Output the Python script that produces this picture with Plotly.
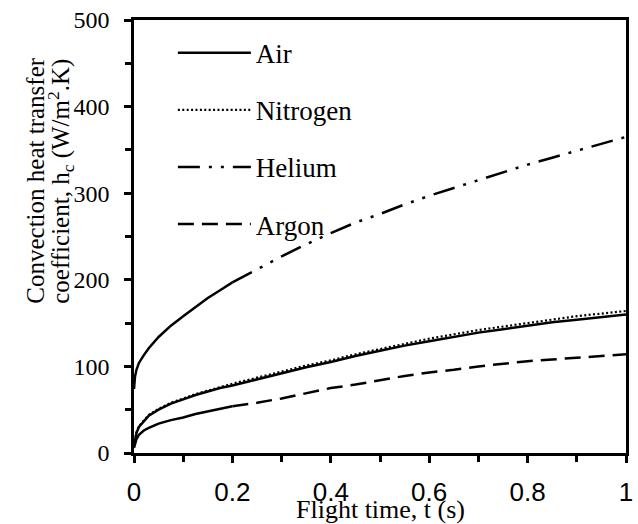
import plotly.graph_objects as go

# Flight time (s)
t_s = [0, 0.002, 0.005, 0.01, 0.02, 0.03, 0.05, 0.075, 0.1, 0.125, 0.15, 0.175,
       0.2, 0.25, 0.3, 0.35, 0.4, 0.45, 0.5, 0.55, 0.6, 0.65, 0.7, 0.75, 0.8,
       0.85, 0.9, 0.95, 1.0]

# Convection heat transfer coefficient h_c (W/m^2.K) for each gas
h_air = [8, 16, 23, 30, 37, 43, 50, 57, 62, 67, 71, 75, 78, 85, 92, 99, 105,
         112, 118, 124, 129, 134, 139, 143, 147, 151, 154, 157, 160]
h_nitrogen = [8, 16, 24, 31, 38, 44, 51, 58, 63, 68, 72, 76, 80, 87, 94, 101,
              107, 114, 120, 126, 132, 137, 142, 146, 150, 154, 158, 161, 164]
h_helium = [74, 88, 96, 104, 113, 121, 134, 147, 158, 169, 179, 188, 197, 212,
            227, 241, 254, 266, 276, 287, 297, 306, 315, 324, 333, 341, 349,
            357, 365]
h_argon = [6, 11, 16, 21, 26, 29, 34, 38, 41, 45, 48, 51, 54, 58, 63, 69, 75,
           79, 84, 89, 93, 96, 100, 103, 106, 108, 110, 112, 114]

x_ticks = [0, 0.2, 0.4, 0.6, 0.8, 1]
x_tick_text = ["0", "0.2", "0.4", "0.6", "0.8", "1"]
y_ticks = [0, 100, 200, 300, 400, 500]

x_title = "Flight time, t (s)"
y_title_lines = ["Convection heat transfer",
                 "coefficient, h<sub>c</sub> (W/m<sup>2</sup>.K)"]

BLACK = "#000000"
SERIF = "Liberation Serif, Times New Roman, serif"
SANS = "Liberation Sans, Arial, sans-serif"

fig = go.Figure()


def add_series(name, values, dash, width, dense_until=None):
    """Add one gas curve; the densely sampled start is drawn solid."""
    if dense_until is not None:
        k = t_s.index(dense_until)
        fig.add_trace(go.Scatter(
            x=t_s[:k + 1], y=values[:k + 1], mode="lines",
            line=dict(color=BLACK, width=width),
            legendgroup=name, showlegend=False, hoverinfo="skip"))
        xs, ys = t_s[k:], values[k:]
    else:
        xs, ys = t_s, values
    fig.add_trace(go.Scatter(
        x=xs, y=ys, name=name, mode="lines", legendgroup=name,
        line=dict(color=BLACK, width=width, dash=dash)))


add_series("Air", h_air, "solid", 2.5)
add_series("Nitrogen", h_nitrogen, "2px,2.4px", 2.2)
add_series("Helium", h_helium, "22px,9px,3px,9px,3px,9px", 2.5, dense_until=0.2)
add_series("Argon", h_argon, "16px,8px", 2.5, dense_until=0.2)

axis_common = dict(showgrid=False, zeroline=False, linecolor=BLACK,
                   linewidth=2.5, tickcolor=BLACK, tickwidth=2.5,
                   automargin=False)

# axis titles, placed as free text next to the axes
annotations = [
    dict(text=x_title, xref="paper", yref="paper", x=0.502, y=-0.131,
         xanchor="center", yanchor="middle", showarrow=False,
         font=dict(family=SERIF, size=26, color=BLACK)),
    dict(text=y_title_lines[0], xref="paper", yref="paper", x=-0.202,
         y=0.628, xanchor="center", yanchor="middle", textangle=-90,
         showarrow=False, font=dict(family=SERIF, size=25, color=BLACK)),
    dict(text=y_title_lines[1], xref="paper", yref="paper", x=-0.149,
         y=0.628, xanchor="center", yanchor="middle", textangle=-90,
         showarrow=False, font=dict(family=SERIF, size=25, color=BLACK)),
]

fig.update_layout(
    width=638, height=524,
    margin=dict(l=134, r=12, t=20, b=71, autoexpand=False),
    paper_bgcolor="white", plot_bgcolor="white",
    showlegend=True,
    annotations=annotations,
    legend=dict(x=0.079, y=0.98, xanchor="left", yanchor="top",
                bgcolor="rgba(0,0,0,0)", itemwidth=73,
                tracegroupgap=19,
                font=dict(family=SERIF, size=27, color=BLACK)),
    xaxis=dict(range=[0, 1], tickvals=x_ticks, ticktext=x_tick_text,
               ticks="outside", ticklen=7, mirror=True,
               ticklabelstandoff=7,
               tickfont=dict(family=SANS, size=26, color=BLACK),
               minor=dict(dtick=0.1, ticks="outside", ticklen=6,
                          tickwidth=2.5, tickcolor=BLACK),
               **axis_common),
    yaxis=dict(range=[0, 500], tickvals=y_ticks, ticks="outside", ticklen=7,
               mirror=True, ticklabelstandoff=10,
               tickfont=dict(family=SERIF, size=24, color=BLACK),
               minor=dict(dtick=50, ticks="outside", ticklen=6,
                          tickwidth=2.5, tickcolor=BLACK),
               **axis_common),
    # inner halves of the major ticks, so they cross the axis lines
    xaxis2=dict(overlaying="x", matches="x", anchor="y2", range=[0, 1],
                tickvals=x_ticks, ticks="inside", ticklen=8,
                showticklabels=False, showline=False, showgrid=False,
                zeroline=False, tickcolor=BLACK, tickwidth=2.5,
                automargin=False),
    yaxis2=dict(overlaying="y", matches="y", anchor="x2", range=[0, 500],
                tickvals=y_ticks, ticks="inside", ticklen=7,
                showticklabels=False, showline=False, showgrid=False,
                zeroline=False, tickcolor=BLACK, tickwidth=2.5,
                automargin=False),
)

fig.write_html("out.html")
